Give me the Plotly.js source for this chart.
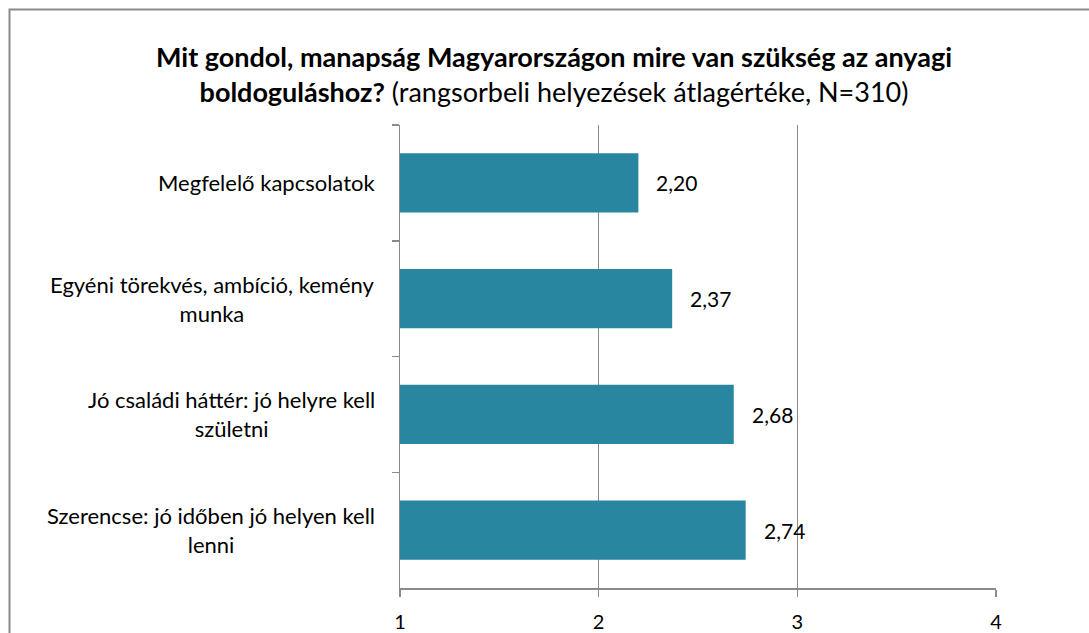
<!DOCTYPE html>
<html>
<head>
<meta charset="utf-8">
<script src="https://cdn.plot.ly/plotly-3.0.1.min.js"></script>
<style>html,body{margin:0;padding:0;background:#fff;}#chart{width:1089px;height:633px;}</style>
</head>
<body>
<div id="chart"></div>
<script>
const categories = [
  "Megfelelő kapcsolatok",
  "Egyéni törekvés, ambíció, kemény<br>munka",
  "Jó családi háttér: jó helyre kell<br>születni",
  "Szerencse: jó időben jó helyen kell<br>lenni"
];
const values = [2.20, 2.37, 2.68, 2.74];
const xTicks = [1, 2, 3, 4];
const titleText = "<b>Mit gondol, manapság Magyarországon mire van szükség az anyagi<br>boldoguláshoz?</b> (rangsorbeli helyezések átlagértéke, N=310)";

const FONT = "Lato, 'Open Sans', sans-serif";
const GRAY = "#8a8a8a";
const BAR = "#2886a0";

const annotations = [];
values.forEach((v, i) => {
  annotations.push({
    x: v, y: categories[i], xref: "x", yref: "y",
    text: v.toFixed(2).replace(".", ","),
    showarrow: false, xanchor: "left", yanchor: "middle", xshift: 16,
    font: {family: FONT, size: 21, color: "#000"}
  });
});
categories.forEach((c) => {
  annotations.push({
    x: (377 - 400) / 596, xref: "paper", y: c, yref: "y",
    text: c, showarrow: false, xanchor: "right", yanchor: "middle", align: "center",
    font: {family: FONT, size: 22, color: "#000"}
  });
});

const data = [{
  type: "bar", orientation: "h",
  x: values, y: categories,
  marker: {color: BAR, line: {width: 0}},
  hoverinfo: "skip"
}];

const layout = {
  width: 1089, height: 633,
  margin: {l: 400, r: 93, t: 125, b: 45},
  paper_bgcolor: "#fff", plot_bgcolor: "#fff",
  showlegend: false,
  bargap: 0.49,
  title: {
    text: titleText,
    x: 554 / 1089, xref: "container", xanchor: "center",
    y: 1 - 67 / 633, yref: "container", yanchor: "middle",
    font: {family: FONT, size: 27, color: "#000"}
  },
  xaxis: {
    range: [1, 4], tickvals: xTicks, ticktext: xTicks.map(String),
    showgrid: true, gridcolor: GRAY, gridwidth: 1.5,
    showline: true, linecolor: GRAY, linewidth: 1.5,
    ticks: "outside", ticklen: 7, tickcolor: GRAY, tickwidth: 1.5,
    ticklabelstandoff: 8,
    tickfont: {family: FONT, size: 20, color: "#000"},
    zeroline: false, fixedrange: true
  },
  yaxis: {
    type: "category", autorange: "reversed",
    showticklabels: false, showgrid: false,
    showline: true, linecolor: GRAY, linewidth: 1.5,
    ticks: "outside", ticklen: 7, tickcolor: GRAY, tickwidth: 1.5,
    tickson: "boundaries",
    zeroline: false, fixedrange: true
  },
  annotations: annotations,
  shapes: [{
    type: "rect", xref: "paper", yref: "paper",
    x0: (9.5 - 400) / 596, x1: (1110 - 400) / 596,
    y0: (588 - 660) / 463, y1: (588 - 9.5) / 463,
    line: {color: GRAY, width: 2}, fillcolor: "rgba(0,0,0,0)", layer: "below"
  }]
};

Plotly.newPlot("chart", data, layout, {displayModeBar: false, staticPlot: true});
</script>
</body>
</html>
